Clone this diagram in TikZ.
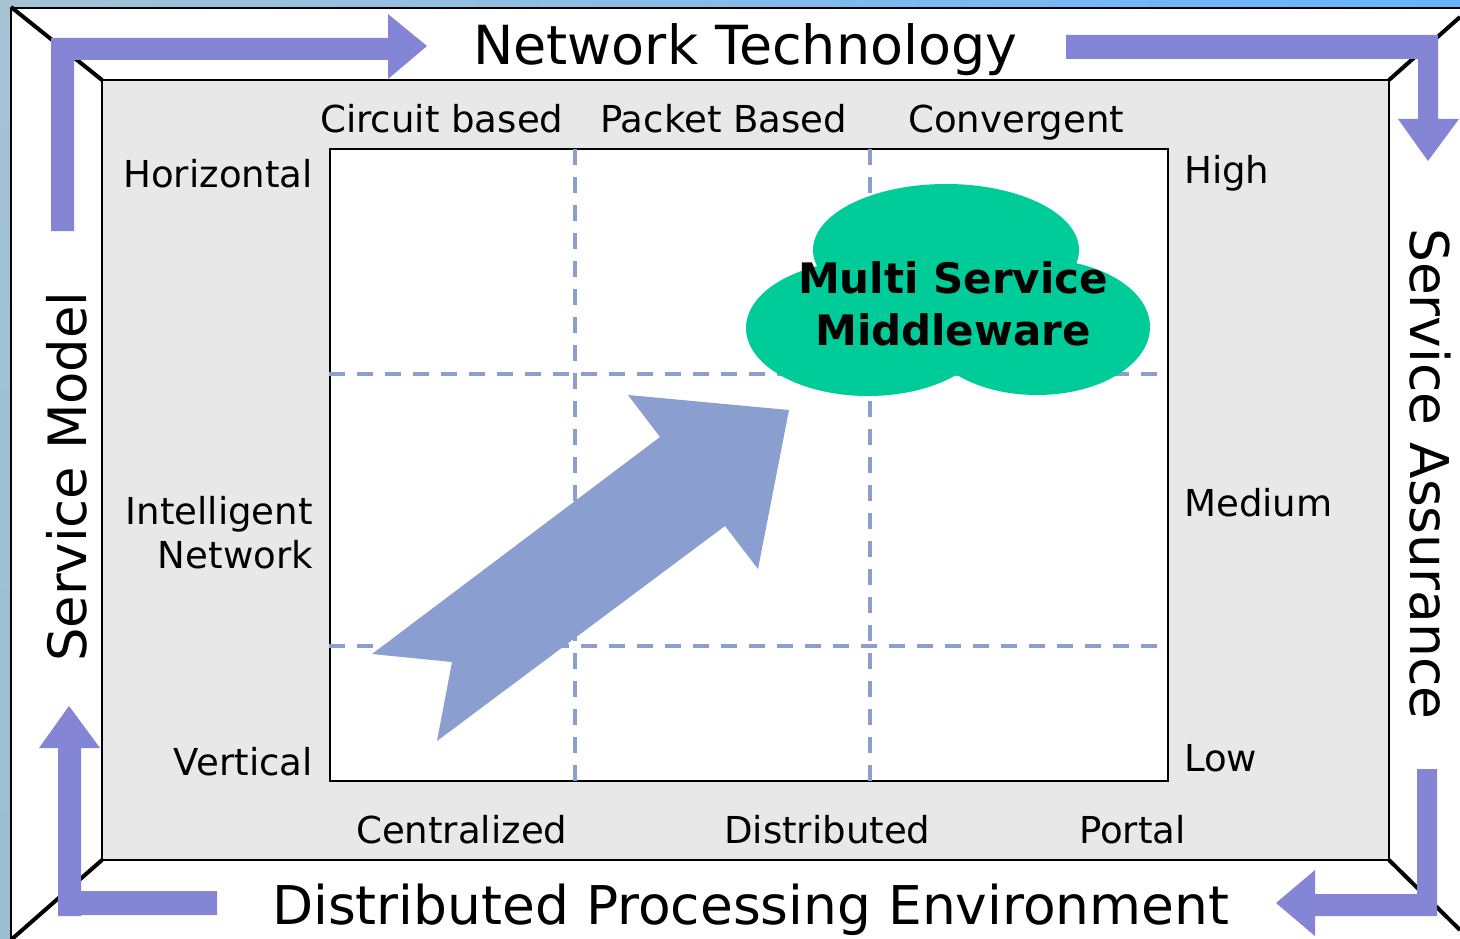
\documentclass[tikz,border=0pt]{standalone}
\usepackage{fontspec}
\setmainfont{DejaVu Sans}

\definecolor{flowblue}{HTML}{8585D6}
\definecolor{gridblue}{HTML}{8A9FD0}
\definecolor{cloudgreen}{HTML}{00CC99}
\definecolor{panelgray}{HTML}{E8E8E8}
\definecolor{edgeleft}{HTML}{A5C3D5}
\definecolor{edgeright}{HTML}{66B3FF}
\definecolor{edgelow}{HTML}{9ABFD5}

\tikzset{
  flowarrow/.style={fill=flowblue},
  gridline/.style={line width=4.4pt, gridblue, dash pattern=on 16pt off 12pt},
  cornerline/.style={line width=4pt},
  boxline/.style={line width=2pt},
  titlelabel/.style={anchor=base west, inner sep=0pt, font=\fontsize{53.4}{54}\selectfont},
  axislabel/.style={anchor=base west, inner sep=0pt, font=\fontsize{37.1}{44}\selectfont},
  cloudlabel/.style={anchor=base, inner sep=0pt, font=\fontsize{42}{42}\selectfont\bfseries}
}

\begin{document}
\begin{tikzpicture}[x=1pt, y=-1pt]
        \useasboundingbox (0,0) rectangle (1460,939);

        %Window background
        \fill [left color=edgeleft, right color=edgeright] (0,0) rectangle (1460,8);
        \fill [top color=edgeleft, bottom color=edgelow]   (0,8) rectangle (11,939);

        %Outer frame
        \fill [white]          (11,8) rectangle (1460,939);
        \draw [boxline]        (1460,8) -- (11,8) -- (11,939);
        \draw [cornerline]     (11,7)    -- (102,80);
        \draw [cornerline]     (1460,17) -- (1389,80);
        \draw [cornerline]     (12,939)  -- (102,860);
        \draw [cornerline]     (1460,930) -- (1389,860);

        %Inner panel
        \draw [boxline, fill=panelgray] (102,80) rectangle (1389,860);

        %Top left arrow
        \fill [flowarrow] (51,231) -- (51,38) -- (388,38) -- (388,14) -- (427,46) -- (388,79)
                          -- (388,60) -- (74,60) -- (74,231) -- cycle;
        %Top right arrow
        \fill [flowarrow] (1066,35) -- (1438,35) -- (1438,119) -- (1459,119) -- (1428,161)
                          -- (1398,119) -- (1418,119) -- (1418,59) -- (1066,59) -- cycle;
        %Bottom right arrow
        \fill [flowarrow] (1417,769) -- (1437,769) -- (1437,916) -- (1315,916) -- (1315,936)
                          -- (1276,903) -- (1315,870) -- (1315,894) -- (1417,894) -- cycle;
        %Bottom left arrow
        \fill [flowarrow] (217,891) -- (217,915) -- (81,915) -- (81,916) -- (58,916) -- (58,748)
                          -- (39,748) -- (69,706) -- (100,748) -- (81,748) -- (81,891) -- cycle;

        %Plot area
        \draw [boxline, fill=white] (330,149) rectangle (1168,781);
        \draw [gridline] (575,149) -- (575,781);
        \draw [gridline] (870,149) -- (870,781);
        \draw [gridline] (329,374) -- (1160,374);
        \draw [gridline] (329,646) -- (1160,646);

        %Growth arrow
        \fill [gridblue] (372,654) -- (660,437) -- (628,395) -- (789,410) -- (758,569)
                         -- (725,526) -- (437,741) -- (452,662) -- cycle;

        %Cloud
        \fill [cloudgreen] (946,250) ellipse [x radius=133, y radius=66];
        \fill [cloudgreen] (868,328) ellipse [x radius=122, y radius=68];
        \fill [cloudgreen] (1037,327) ellipse [x radius=113, y radius=68];
        \node [cloudlabel] (multi)      at (953,293) {Multi Service};
        \node [cloudlabel] (middleware) at (953,345) {Middleware};

        %Frame titles
        \node [titlelabel, font=\fontsize{53.9}{54}\selectfont] (network) at (473,65) {Network Technology};
        \node [titlelabel] (distributed) at (272,924) {Distributed Processing Environment};
        \node [titlelabel, rotate=90, font=\fontsize{52.8}{54}\selectfont] (model) at (86,662) {Service Model};
        \node [titlelabel, rotate=-90] (assurance) at (1410,228) {Service Assurance};

        %Column labels
        \node [axislabel] (circuit)     at (320,133) {Circuit based};
        \node [axislabel] (packet)      at (600,133) {Packet Based};
        \node [axislabel] (convergent)  at (908,133) {Convergent};
        \node [axislabel] (centralized) at (356,843) {Centralized};
        \node [axislabel] (distrib)     at (724,843) {Distributed};
        \node [axislabel] (portal)      at (1079,843) {Portal};

        %Row labels
        \node [axislabel, anchor=base east] (horizontal) at (313,188) {Horizontal};
        \node [axislabel, anchor=east, align=right] (intelligent) at (313,533) {Intelligent\\Network};
        \node [axislabel, anchor=base east] (vertical)   at (313,775) {Vertical};
        \node [axislabel] (high)   at (1184,184) {High};
        \node [axislabel] (medium) at (1184,516) {Medium};
        \node [axislabel] (low)    at (1184,771) {Low};

\end{tikzpicture}
\end{document}
